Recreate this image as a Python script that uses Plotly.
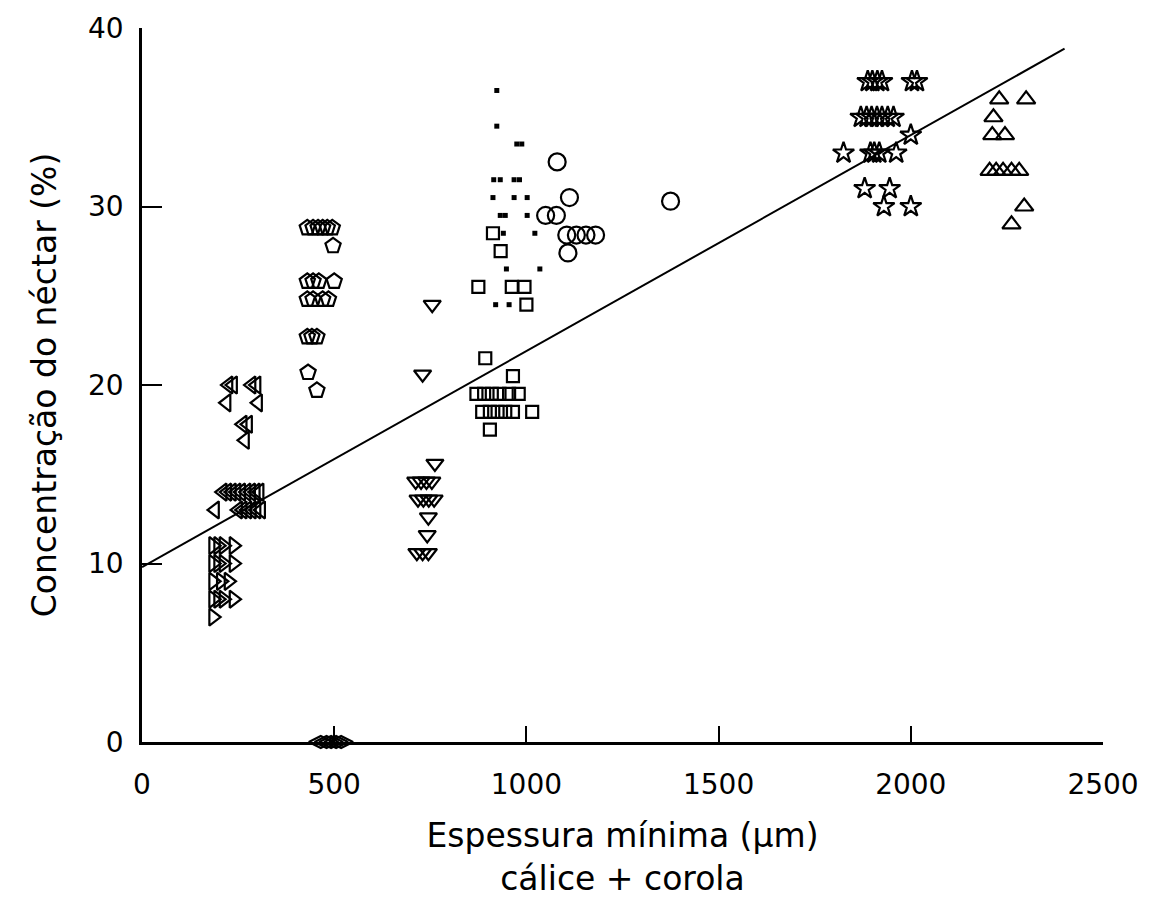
import plotly.graph_objects as go

# ---- data ----
tri_left_x = [225, 237, 285, 298, 220, 302, 262, 276, 268,
              210, 222, 234, 246, 258, 272, 284, 296, 306,
              190, 250, 262, 274, 286, 298, 310]
tri_left_y = [20, 20, 20, 20, 19, 19, 17.8, 17.8, 16.9,
              14, 14, 14, 14, 14, 14, 14, 14, 14,
              13, 13, 13, 13, 13, 13, 13]

tri_right_x = [185, 198, 212, 238, 185, 198, 212, 238, 185, 205, 225, 185, 198, 212, 238, 185]
tri_right_y = [11, 11, 11, 11, 10, 10, 10, 10, 9, 9, 9, 8, 8, 8, 8, 7]

pent_x = [430, 445, 458, 470, 482, 495, 497, 430, 445, 460, 500, 430, 445, 470, 485, 430, 442, 455, 432, 455]
pent_y = [28.8, 28.8, 28.8, 28.8, 28.8, 28.8, 27.8, 25.8, 25.8, 25.8, 25.8, 24.8, 24.8, 24.8, 24.8,
          22.7, 22.7, 22.7, 20.7, 19.7]

diam_x = [465, 480, 492, 505, 518]
diam_y = [0, 0, 0, 0, 0]

tri_down_x = [755, 730, 762, 712, 726, 740, 754, 718, 732, 746, 760, 745, 742, 715, 730, 745]
tri_down_y = [24.5, 20.6, 15.6, 14.6, 14.6, 14.6, 14.6, 13.6, 13.6, 13.6, 13.6, 12.6, 11.6, 10.6, 10.6, 10.6]

sq_x = [913, 933, 875, 962, 995, 1000, 893, 965,
        870, 890, 910, 930, 955, 980,
        885, 905, 925, 945, 965, 1015, 905]
sq_y = [28.5, 27.5, 25.5, 25.5, 25.5, 24.5, 21.5, 20.5,
        19.5, 19.5, 19.5, 19.5, 19.5, 19.5,
        18.5, 18.5, 18.5, 18.5, 18.5, 18.5, 17.5]

dot_x = [923, 923, 975, 988, 915, 932, 968, 982, 913, 968, 1002, 932, 945, 1002, 940, 1022, 948, 1035, 920, 955]
dot_y = [36.5, 34.5, 33.5, 33.5, 31.5, 31.5, 31.5, 31.5, 30.5, 30.5, 30.5, 29.5, 29.5, 29.5, 28.5, 28.5,
         26.5, 26.5, 24.5, 24.5]

circ_x = [1080, 1112, 1050, 1078, 1105, 1130, 1155, 1180, 1108, 1375]
circ_y = [32.5, 30.5, 29.5, 29.5, 28.4, 28.4, 28.4, 28.4, 27.4, 30.3]

star_x = [1888, 1900, 1913, 1925, 2003, 2016,
          1870, 1885, 1898, 1912, 1925, 1940, 1955,
          2000, 1825, 1895, 1905, 1918, 1962,
          1880, 1945, 1930, 2000]
star_y = [37, 37, 37, 37, 37, 37,
          35, 35, 35, 35, 35, 35, 35,
          34, 33, 33, 33, 33, 33,
          31, 31, 30, 30]

tri_up_x = [2230, 2300, 2215, 2212, 2245, 2205, 2222, 2240, 2262, 2282, 2295, 2262]
tri_up_y = [36, 36, 35, 34, 34, 32, 32, 32, 32, 32, 30, 29]

fit_x = [0, 2400]
fit_intercept = 9.8
fit_slope = 0.0121

x_ticks = [0, 500, 1000, 1500, 2000, 2500]
y_ticks = [0, 10, 20, 30, 40]

FONT = "DejaVu Sans"

fig = go.Figure()

fig.add_trace(go.Scatter(
    x=fit_x, y=[fit_intercept + fit_slope * v for v in fit_x],
    mode="lines", line=dict(color="black", width=2), hoverinfo="skip"))


def add(xs, ys, symbol, size, lw=2.2, color="black"):
    fig.add_trace(go.Scatter(
        x=xs, y=ys, mode="markers", cliponaxis=False,
        marker=dict(symbol=symbol, size=size, color=color,
                    line=dict(color="black", width=lw))))


add(tri_left_x, tri_left_y, "triangle-left-open", 15)
add(tri_right_x, tri_right_y, "triangle-right-open", 15)
add(pent_x, pent_y, "pentagon-open", 16)
add(diam_x, diam_y, "diamond-wide-open", 17)
add(tri_down_x, tri_down_y, "triangle-down-open", 15)
add(sq_x, sq_y, "square-open", 12)
add(dot_x, dot_y, "square", 5, lw=0)
add(circ_x, circ_y, "circle-open", 17)
add(star_x, star_y, "star-open", 16)
add(tri_up_x, tri_up_y, "triangle-up-open", 16)

fig.update_layout(
    width=1151, height=916,
    margin=dict(l=142, r=48, t=25, b=174),
    paper_bgcolor="white", plot_bgcolor="white",
    showlegend=False,
    font=dict(family=FONT, color="black", size=27),
)

fig.update_xaxes(
    range=[0, 2500], tickvals=x_ticks, ticktext=[str(v) for v in x_ticks],
    showgrid=False, zeroline=False, showline=True, linecolor="black", linewidth=2.5,
    ticks="inside", ticklen=16, tickwidth=1.5, tickcolor="black",
    ticklabelstandoff=16,
    tickfont=dict(family=FONT, size=28),
    title=dict(text="Espessura mínima (µm)<br>cálice + corola",
               font=dict(family=FONT, size=33), standoff=24),
)
fig.update_yaxes(
    range=[0, 40], tickvals=y_ticks, ticktext=[str(v) for v in y_ticks],
    showgrid=False, zeroline=False, showline=True, linecolor="black", linewidth=2.5,
    ticks="inside", ticklen=20, tickwidth=1.5, tickcolor="black",
    ticklabelstandoff=10,
    tickfont=dict(family=FONT, size=28),
    title=dict(text="Concentração do néctar (%)",
               font=dict(family=FONT, size=33), standoff=22),
)

fig.write_html("out.html")
